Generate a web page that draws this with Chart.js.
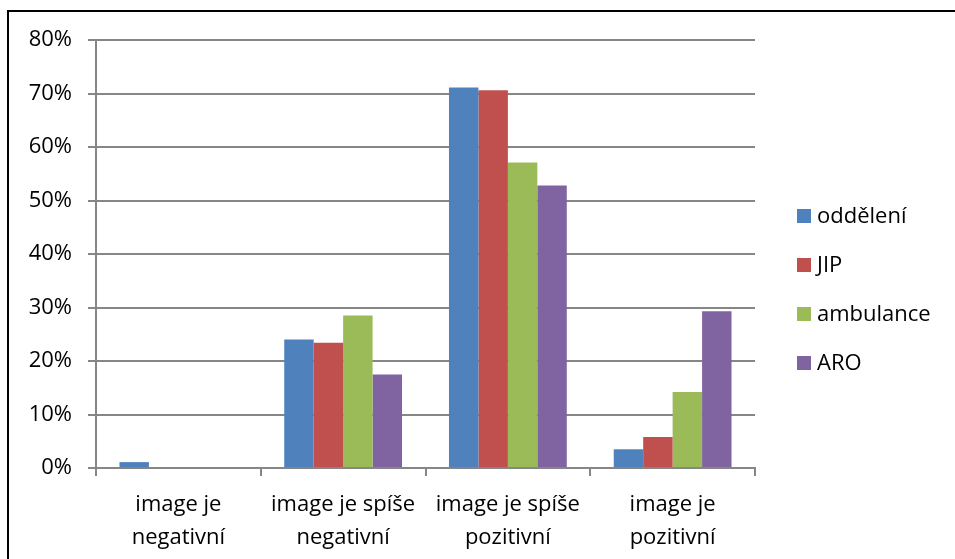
<!DOCTYPE html>
<html>
<head>
<meta charset="utf-8">
<script src="https://cdn.jsdelivr.net/npm/chart.js@4/dist/chart.umd.min.js"></script>
<style>
  html, body { margin: 0; padding: 0; background: #fff; }
  #wrap { position: relative; width: 955px; height: 559px; overflow: hidden; }
  #frame { position: absolute; left: 7px; top: 10px; width: 1000px; height: 600px; border: 2px solid #000; box-sizing: border-box; }
  canvas { position: absolute; left: 0; top: 0; }
  #legend { position: absolute; left: 797px; top: 199px; font-family: "Open Sans", sans-serif; font-size: 22px; color: #000; }
  #legend div { height: 49px; display: flex; align-items: flex-start; }
  #legend span.box { display: inline-block; width: 14px; height: 14px; margin-top: 10px; margin-right: 6px; }
</style>
</head>
<body>
<div id="wrap">
  <div id="frame"></div>
  <canvas id="c" width="955" height="559"></canvas>
  <div id="legend"></div>
</div>
<script>
const categories = [
  ['image je', 'negativní'],
  ['image je spíše', 'negativní'],
  ['image je spíše', 'pozitivní'],
  ['image je', 'pozitivní']
];
const seriesNames = ['oddělení', 'JIP', 'ambulance', 'ARO'];
const oddeleni  = [1.1, 24.0, 71.1, 3.5];
const jip       = [0, 23.4, 70.6, 5.8];
const ambulance = [0, 28.5, 57.1, 14.2];
const aro       = [0, 17.5, 52.8, 29.3];
const colors = ['#4F81BD', '#C0504D', '#9BBB59', '#8064A2'];
const yTicks = [0, 10, 20, 30, 40, 50, 60, 70, 80];

const FONT = '"Open Sans", sans-serif';
const values = [oddeleni, jip, ambulance, aro];

new Chart(document.getElementById('c'), {
  type: 'bar',
  data: {
    labels: categories,
    datasets: seriesNames.map((n, i) => ({
      label: n,
      data: values[i],
      backgroundColor: colors[i],
      borderWidth: 0,
      categoryPercentage: 0.715,
      barPercentage: 1
    }))
  },
  options: {
    responsive: false,
    animation: false,
    layout: { padding: { left: 10, right: 200, top: 40, bottom: 0 } },
    plugins: { legend: { display: false }, tooltip: { enabled: false } },
    scales: {
      x: {
        grid: { display: true, drawOnChartArea: false, offset: true, color: '#868686', lineWidth: 2, tickLength: 8 },
        border: { color: '#868686', width: 2 },
        ticks: { color: '#000', font: { family: FONT, size: 22, lineHeight: 1.5 }, padding: 12, maxRotation: 0, autoSkip: false },
        afterFit: (s) => { s.height = 91; }
      },
      y: {
        min: 0, max: 80,
        afterBuildTicks: (s) => { s.ticks = yTicks.map(v => ({ value: v })); },
        grid: { color: '#868686', lineWidth: 2, tickLength: 8 },
        border: { color: '#868686', width: 2 },
        ticks: { color: '#000', font: { family: FONT, size: 22 }, padding: 16, callback: (v) => v + '%' },
        afterFit: (s) => { s.width = 86; }
      }
    }
  }
});

document.getElementById('legend').innerHTML = seriesNames.map((n, i) =>
  `<div><span class="box" style="background:${colors[i]}"></span>${n}</div>`).join('');
</script>
</body>
</html>
